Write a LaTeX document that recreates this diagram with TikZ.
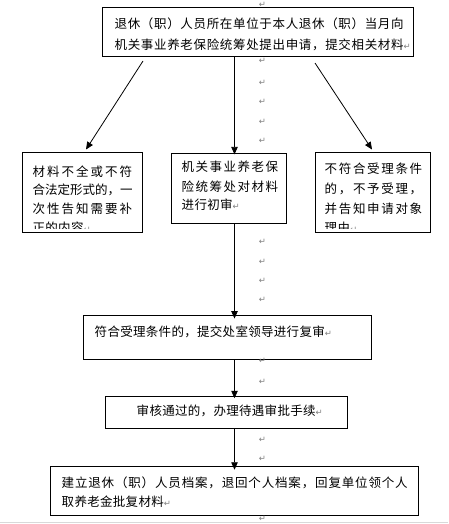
\documentclass[tikz,border=0pt]{standalone}
\usepackage{fontspec}
\newfontfamily\cjk{Noto Sans CJK SC}
\newfontfamily\djv{DejaVu Sans}
\usetikzlibrary{arrows.meta}
\ExplSyntaxOn
\NewDocumentCommand\jl{mm}{\hbox~to~#1{\tl_map_inline:nn{#2}{##1\hfil}\unskip}}
\NewDocumentCommand\nl{m}{\tl_map_inline:nn{#1}{##1\kern0.3pt}\unkern}
\ExplSyntaxOff
\newcommand\pmark{{\djv\fontsize{8.5}{9}\selectfont\textcolor{gray}{↵}}}
\tikzset{
  box/.style={draw, line width=0.9pt, inner sep=0pt},
  txt/.style={anchor=base west, inner sep=0pt, font=\cjk\fontsize{12.5}{15}\selectfont},
  pmk/.style={inner sep=0pt, font=\djv\fontsize{8.5}{9}\selectfont, text=gray},
  arr/.style={-{Triangle[length=7.5pt,width=6.5pt]}, line width=0.8pt}
}
\begin{document}
\begin{tikzpicture}[x=1pt,y=-1pt]
\useasboundingbox (0,0) rectangle (448,524);
\draw[gray!30, line width=1.2pt] (0,522.7) -- (448,522.7);
% boxes
\node[box, minimum width=310.6pt, minimum height=49.4pt] (T) at (258,32) {};
\node[box, minimum width=120pt, minimum height=80.7pt] (L) at (82.7,192.35) {};
\node[box, minimum width=115pt, minimum height=70pt] (M) at (229.2,188.3) {};
\node[box, minimum width=115.4pt, minimum height=80.7pt] (R) at (373,192.35) {};
\node[box, minimum width=288.7pt, minimum height=44.3pt] (B3) at (227.35,337.15) {};
\node[box, minimum width=242pt, minimum height=32pt] (B4) at (226.3,412.7) {};
\node[box, minimum width=367.6pt, minimum height=48.6pt] (B5) at (234.5,491) {};
% texts
\node[txt] (t1) at (114.4,28.6) {\jl{289pt}{退休（职）人员所在单位于本人退休（职）当月向}};
\node[txt] (t2) at (114.4,49.5) {\jl{289pt}{机关事业养老保险统筹处提出申请，提交相关材料}\pmark};
\begin{scope}
\clip (22.7,152) rectangle (142.7,228);
\node[txt] (l1) at (32.4,176.2) {\jl{99.5pt}{材料不全或不符}};
\node[txt] (l2) at (32.4,194.9) {\jl{99.5pt}{合法定形式的，一}};
\node[txt] (l3) at (32.4,213.7) {\jl{99.5pt}{次性告知需要补}};
\node[txt] (l4) at (32.4,232.6) {\nl{正的内容}\pmark};
\end{scope}
\node[txt] (m1) at (181.5,171.7) {\jl{96.5pt}{机关事业养老保}};
\node[txt] (m2) at (181.5,191.1) {\jl{96.5pt}{险统筹处对材料}};
\node[txt] (m3) at (181.5,209.7) {\nl{进行初审}\pmark};
\begin{scope}
\clip (315.3,152) rectangle (430.7,228);
\node[txt] (r1) at (324.5,173.7) {\jl{97.5pt}{不符合受理条件}};
\node[txt] (r2) at (324.5,193.6) {\jl{97.5pt}{的，不予受理，}};
\node[txt] (r3) at (324.5,213.6) {\jl{97.5pt}{并告知申请对象}};
\node[txt] (r4) at (324.5,232.6) {\nl{理由}\pmark};
\end{scope}
\node[txt] (b3) at (94.5,336.7) {\nl{符合受理条件的，提交处室领导进行复审}\pmark};
\node[txt] (b4) at (136.5,415.7) {\nl{审核通过的，办理待遇审批手续}\pmark};
\node[txt] (b5a) at (61.5,487.2) {\jl{346pt}{建立退休（职）人员档案，退回个人档案，回复单位领个人}};
\node[txt] (b5b) at (61.5,506.7) {\nl{取养老金批复材料}\pmark};
% paragraph marks outside
\foreach \yy [count=\i] in {4.5,60.5,83,102,122,141,242,262,281,300,361,382,440,459,518.5}
  \node[pmk] (p\i) at (262.5,\yy) {↵};
% connectors
\coordinate (la1) at (143,61);
\coordinate (la2) at (86,149.5);
\coordinate (ra1) at (315,63);
\coordinate (ra2) at (372,149.5);
\draw[arr] (la1) -- (la2);
\draw[arr] (ra1) -- (ra2);
\draw[arr] (T.south -| 234.5,0) -- ([yshift=-1.5pt]M.north -| 234.5,0);
\draw[arr] (M.south -| 234.5,0) -- ([yshift=-4pt]B3.north -| 234.5,0);
\draw[arr] (B3.south -| 234.5,0) -- ([yshift=-2pt]B4.north -| 234.5,0);
\draw[arr] (B4.south -| 234.5,0) -- ([yshift=-3.5pt]B5.north -| 234.5,0);
\end{tikzpicture}
\end{document}
